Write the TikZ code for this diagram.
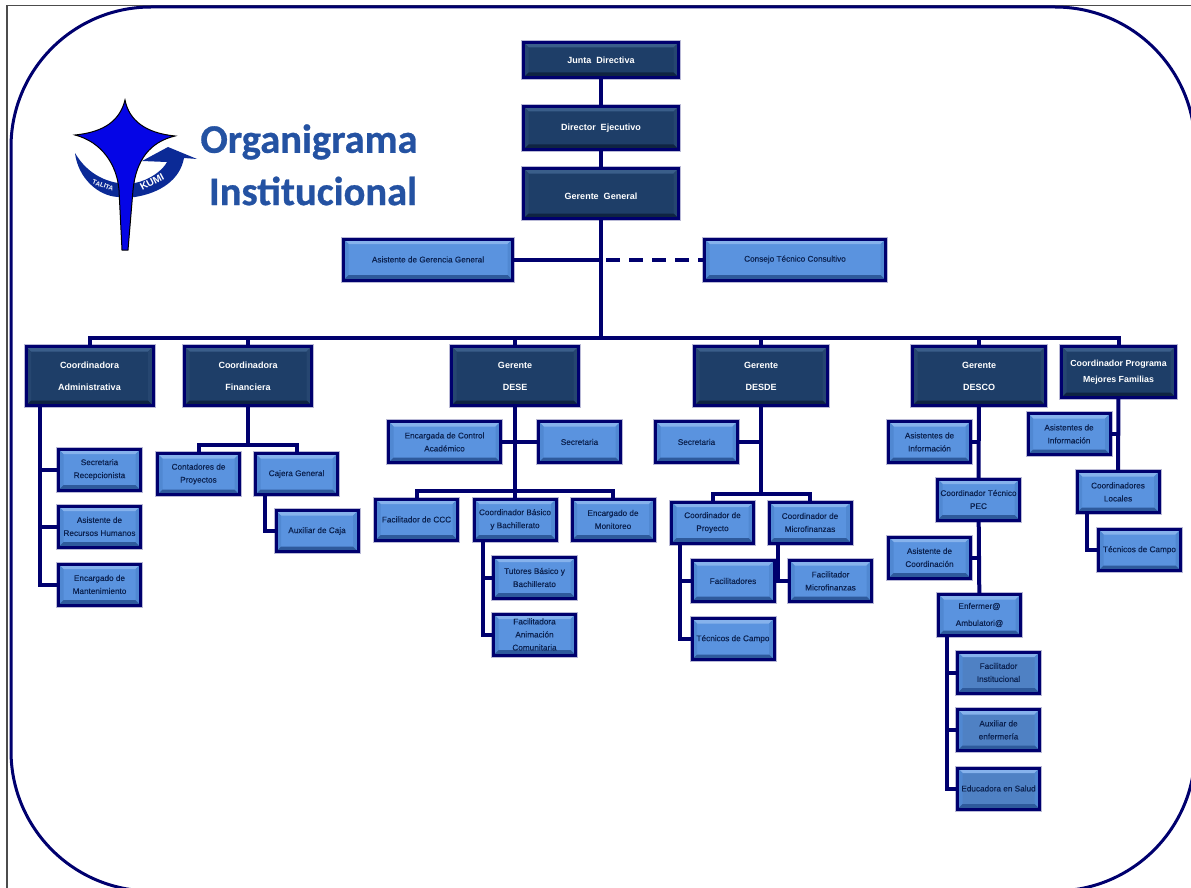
\documentclass[tikz,border=0pt]{standalone}
\usepackage{fontspec}
\setmainfont{Liberation Sans}
\newfontfamily\titlefont{Carlito}[BoldFeatures={FakeBold=0.7}]
\newfontfamily\boxfont{Liberation Sans}[FakeBold=0.35]
\definecolor{navyline}{HTML}{00006E}
\definecolor{darkfill}{HTML}{1E3E68}
\definecolor{darktop}{HTML}{3A5E8A}
\definecolor{darkside}{HTML}{264670}
\definecolor{darkbottom}{HTML}{0F2442}
\definecolor{lightfill}{HTML}{5A93DF}
\definecolor{lighttop}{HTML}{86B2EC}
\definecolor{lightside}{HTML}{5088D2}
\definecolor{lightbottom}{HTML}{2E5A9C}
\definecolor{halo}{HTML}{B9B9D6}
\definecolor{boxtext}{HTML}{0C2250}
\definecolor{titleblue}{HTML}{2452A2}
\definecolor{starblue}{HTML}{0505E6}
\definecolor{swoosh}{HTML}{0B2A96}
\def\ppb{path picture bounding box}
\tikzset{
  bevel/.style n args={3}{path picture={
    \fill[#1] (\ppb.north west) -- (\ppb.north east) -- ([shift={(-5pt,-5pt)}]\ppb.north east) -- ([shift={(5pt,-5pt)}]\ppb.north west) -- cycle;
    \fill[#2] (\ppb.north west) -- (\ppb.south west) -- ([shift={(5pt,5pt)}]\ppb.south west) -- ([shift={(5pt,-5pt)}]\ppb.north west) -- cycle;
    \fill[#2] (\ppb.north east) -- (\ppb.south east) -- ([shift={(-5pt,5pt)}]\ppb.south east) -- ([shift={(-5pt,-5pt)}]\ppb.north east) -- cycle;
    \fill[#3] (\ppb.south west) -- (\ppb.south east) -- ([shift={(-5pt,5pt)}]\ppb.south east) -- ([shift={(5pt,5pt)}]\ppb.south west) -- cycle;
  }},
  topbox/.style={rectangle, draw=navyline, line width=3pt, fill=darkfill, inner sep=0pt, outer sep=0pt,
    preaction={draw=halo, line width=5pt}, bevel={darktop}{darkside}{darkbottom},
    minimum width=155pt, text=white, align=center, font=\bfseries\fontsize{9}{11}\selectfont},
  headbox/.style={rectangle, draw=navyline, line width=3pt, fill=darkfill, inner sep=0pt, outer sep=0pt,
    preaction={draw=halo, line width=5pt}, bevel={darktop}{darkside}{darkbottom},
    minimum width=127pt, minimum height=59pt, text=white, align=center, font=\bfseries\fontsize{9}{22}\selectfont},
  lightbox/.style={rectangle, draw=navyline, line width=3pt, fill=lightfill, inner sep=0pt, outer sep=0pt,
    preaction={draw=halo, line width=5pt}, bevel={lighttop}{lightside}{lightbottom},
    minimum width=82pt, minimum height=41pt, text=boxtext, align=center, font=\boxfont\fontsize{8.2}{13}\selectfont},
  link/.style={draw=navyline, line width=4pt, line join=miter},
}
\begin{document}
\begin{tikzpicture}[x=1pt, y=-1pt]
  \useasboundingbox (0,0) rectangle (1191,888);
  \draw[black!70, line width=1.5pt] (7,888) -- (7,5.5) -- (1191,5.5);
  \draw[navyline, line width=3pt, rounded corners=140pt] (11,7) rectangle (1195,891);

  % logo
  \fill[swoosh] (75,153) .. controls (78,178) and (98,196) .. (118,197) -- (135,197) .. controls (160,193) and (180,180) .. (184,158) -- (197,159) -- (168,147) -- (142,161) -- (167,162) .. controls (163,170) and (150,180) .. (135,183) -- (118,183) .. controls (100,180) and (85,170) .. (75,153) -- cycle;
  \node[text=white, rotate=-20, font=\bfseries\fontsize{6.5}{7}\selectfont] (talita) at (103,185.5) {TALITA};
  \node[text=white, rotate=28, font=\bfseries\fontsize{10}{10}\selectfont] (kumi) at (152,182) {KUMI};
  \draw[black, line width=1pt, fill=starblue] (125,100) .. controls (129,120) and (145,133) .. (175,136) .. controls (150,142) and (136,160) .. (133,190) -- (128,250) -- (122,250) -- (119,190) .. controls (117,165) and (102,142) .. (75,135) .. controls (105,132) and (120,120) .. (125,100) -- cycle;
  \node[text=titleblue, font=\titlefont\bfseries\fontsize{40.5}{41}\selectfont] (titleone) at (309,142) {Organigrama};
  \node[text=titleblue, font=\titlefont\bfseries\fontsize{40.5}{41}\selectfont] (titletwo) at (313,191) {Institucional};

  % nodes
  \node[topbox, minimum height=35pt] (junta) at (601,60) {Junta\ \ Directiva};
  \node[topbox, minimum height=43pt] (director) at (601,128) {Director\ \ Ejecutivo};
  \node[topbox, minimum height=50pt, text height=12pt] (gerente) at (601,193.5) {Gerente\ \ General};
  \node[lightbox, minimum width=169pt] (asistgg) at (428,259.5) {Asistente de Gerencia General};
  \node[lightbox, minimum width=181pt] (consejo) at (795,259.5) {Consejo Técnico Consultivo};

  \node[headbox] (admin) at (89.5,376) {Coordinadora\\Administrativa};
  \node[headbox] (finan) at (248,376) {Coordinadora\\Financiera};
  \node[headbox] (dese) at (515,376) {Gerente\\DESE};
  \node[headbox, minimum width=133pt] (desde) at (761,376) {Gerente\\DESDE};
  \node[headbox, minimum width=133pt] (desco) at (979,376) {Gerente\\DESCO};
  \node[headbox, minimum width=114pt, minimum height=51pt, font=\bfseries\fontsize{8.8}{16}\selectfont] (mejores) at (1118.5,372) {Coordinador Programa\\Mejores Familias};

  \node[lightbox] (recep) at (99.5,469.5) {Secretaria\\Recepcionista};
  \node[lightbox] (rrhh) at (99.5,526.5) {Asistente de\\Recursos Humanos};
  \node[lightbox] (mante) at (99.5,584.5) {Encargado de\\Mantenimiento};
  \node[lightbox] (conta) at (198.5,474) {Contadores de\\Proyectos};
  \node[lightbox] (cajera) at (296.5,474) {Cajera General};
  \node[lightbox] (auxcaja) at (317,531) {Auxiliar de Caja};

  \node[lightbox, minimum width=112pt] (control) at (444.5,442) {Encargada de Control\\Académico};
  \node[lightbox] (secdese) at (579.5,442) {Secretaria};
  \node[lightbox] (ccc) at (416.5,519.5) {Facilitador de CCC};
  \node[lightbox] (basico) at (515,519.5) {Coordinador Básico\\y Bachillerato};
  \node[lightbox] (monitoreo) at (613,519.5) {Encargado de\\Monitoreo};
  \node[lightbox] (tutores) at (534.5,577.5) {Tutores Básico y\\Bachillerato};
  \node[lightbox] (animacion) at (534.5,634.5) {Facilitadora\\Animación\\Comunitaria};

  \node[lightbox] (secdesde) at (696.5,442) {Secretaria};
  \node[lightbox] (proyecto) at (712.5,522.5) {Coordinador de\\Proyecto};
  \node[lightbox] (micro) at (810,522.5) {Coordinador de\\Microfinanzas};
  \node[lightbox] (facil) at (733,581) {Facilitadores};
  \node[lightbox] (facmicro) at (830.5,581) {Facilitador\\Microfinanzas};
  \node[lightbox] (tecdesde) at (733,639) {Técnicos de Campo};

  \node[lightbox] (infodesco) at (929.5,442) {Asistentes de\\Información};
  \node[lightbox] (pec) at (978.5,499.5) {Coordinador Técnico\\PEC};
  \node[lightbox] (asistcoord) at (929.5,557.5) {Asistente de\\Coordinación};
  \node[lightbox, font=\boxfont\fontsize{8.2}{17}\selectfont] (enfer) at (979.5,615) {Enfermer@\\Ambulatori@};
  \node[lightbox, fill=lightfill!88!black] (instit) at (998.5,672.5) {Facilitador\\Institucional};
  \node[lightbox, fill=lightfill!88!black] (auxenf) at (998.5,730) {Auxiliar de\\enfermería};
  \node[lightbox, fill=lightfill!88!black] (salud) at (998.5,788.5) {Educadora en Salud};

  \node[lightbox] (infoprog) at (1069,434) {Asistentes de\\Información};
  \node[lightbox] (locales) at (1118,492) {Coordinadores\\Locales};
  \node[lightbox] (tecprog) at (1139.5,550) {Técnicos de Campo};

  % junctions
  \coordinate (cross) at (601,259.5);
  \coordinate (bus) at (601,338);
  \coordinate (finbus) at (248,445);
  \coordinate (desebus) at (515,491);
  \coordinate (desdebus) at (761,494);
  \coordinate (admintrunk) at (40,405);
  \coordinate (cajatrunk) at (265,494);
  \coordinate (basicotrunk) at (483,540);
  \coordinate (proytrunk) at (680,542);
  \coordinate (microtrunk) at (778,542);
  \coordinate (enfertrunk) at (947,636);
  \coordinate (loctrunk) at (1087,512);

  % connectors
  \draw[link] (junta) -- (director);
  \draw[link] (director) -- (gerente);
  \draw[link] (gerente) -- (bus);
  \draw[link] (asistgg) -- (cross);
  \draw[link, dash pattern=on 14pt off 9pt, dash phase=18pt] (cross) -- (consejo);
  \foreach \child in {admin, finan, dese, desde, desco, mejores}
    \draw[link] (bus) -| (\child.north);
  \foreach \child in {recep, rrhh, mante}
    \draw[link] (admintrunk) |- (\child.west);
  \draw[link] (finan) -- (finbus);
  \foreach \child in {conta, cajera}
    \draw[link] (finbus) -| (\child.north);
  \draw[link] (cajatrunk) |- (auxcaja.west);
  \draw[link] (dese) -- (desebus);
  \draw[link] (control.east) -- (secdese.west);
  \foreach \child in {ccc, basico, monitoreo}
    \draw[link] (desebus) -| (\child.north);
  \foreach \child in {tutores, animacion}
    \draw[link] (basicotrunk) |- (\child.west);
  \draw[link] (desde) -- (desdebus);
  \draw[link] (secdesde.east) -- (secdesde.east -| desde.south);
  \foreach \child in {proyecto, micro}
    \draw[link] (desdebus) -| (\child.north);
  \foreach \child in {facil, tecdesde}
    \draw[link] (proytrunk) |- (\child.west);
  \draw[link] (microtrunk) |- (facmicro.west);
  \draw[link] (desco) -- (pec);
  \draw[link] (infodesco.east) -- (infodesco.east -| desco.south);
  \draw[link] (pec) -- (enfer);
  \draw[link] (asistcoord.east) -- (asistcoord.east -| pec.south);
  \foreach \child in {instit, auxenf, salud}
    \draw[link] (enfertrunk) |- (\child.west);
  \draw[link] (mejores) -- (locales);
  \draw[link] (infoprog.east) -- (infoprog.east -| mejores.south);
  \draw[link] (loctrunk) |- (tecprog.west);
\end{tikzpicture}
\end{document}
